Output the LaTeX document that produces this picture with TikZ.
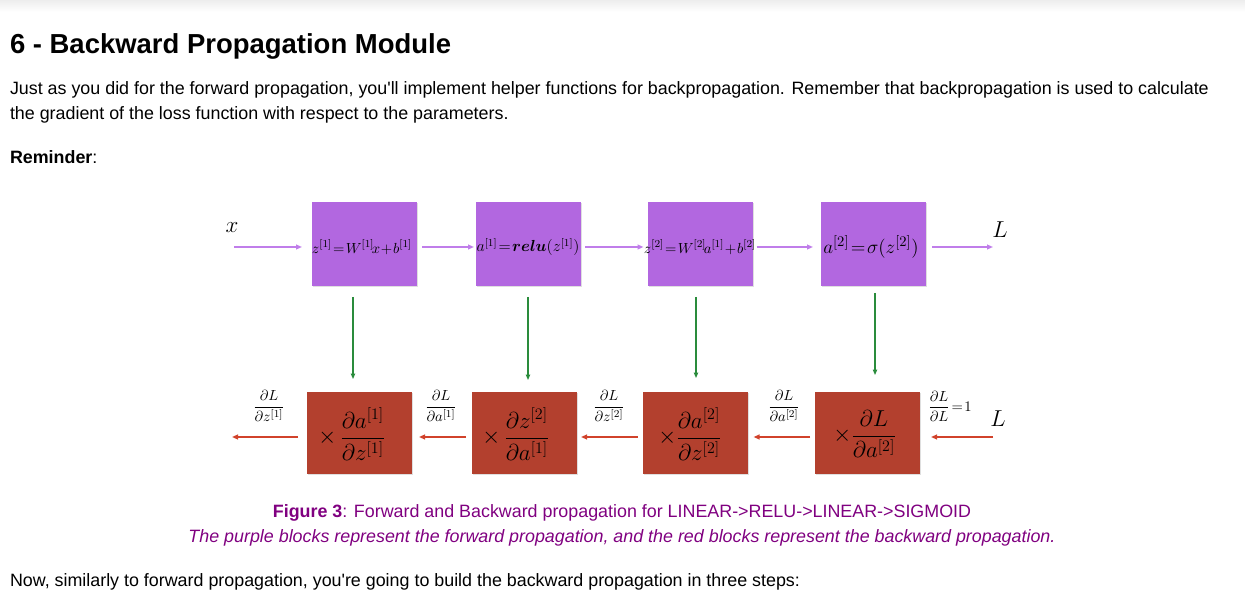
\documentclass[tikz,border=0pt]{standalone}
\usepackage{amsmath}
\usepackage{fontspec}
\setmainfont{Liberation Sans}
\usetikzlibrary{arrows.meta,shadows}
\definecolor{fwdbox}{HTML}{B267E0}
\definecolor{bwdbox}{HTML}{B3402E}
\definecolor{fwdline}{HTML}{C07EEA}
\definecolor{bwdline}{HTML}{D1422B}
\definecolor{grnline}{HTML}{2A8C3C}
\definecolor{capcol}{HTML}{800080}
\newcommand{\tightmath}{\thickmuskip=1.5mu\medmuskip=1mu}
\newcommand{\sq}{\textquotesingle}
\tikzset{
  every node/.style={inner sep=0pt, outer sep=0pt},
  fbox/.style={fill=fwdbox, minimum width=78.75pt, minimum height=63pt,
    drop shadow={shadow xshift=1pt, shadow yshift=-1pt, opacity=0.25}},
  rbox/.style={fill=bwdbox, minimum width=78.75pt, minimum height=61.5pt,
    drop shadow={shadow xshift=1pt, shadow yshift=-1pt, opacity=0.25}},
  fwdarr/.style={draw=fwdline, line width=1.1pt, -{Triangle[length=4.5pt,width=3.6pt]}},
  bwdarr/.style={draw=bwdline, line width=1.1pt, -{Triangle[length=4.5pt,width=3.6pt]}},
  grnarr/.style={draw=grnline, line width=0.8pt, -{Triangle[length=4pt,width=3.2pt]}},
  bodytext/.style={anchor=base west, font=\fontsize{13.4}{16}\selectfont},
  lbl/.style={font=\fontsize{11}{12}\selectfont},
  big/.style={font=\fontsize{17}{18}\selectfont},
  bcont/.style={font=\fontsize{16.5}{18}\selectfont},
}
\begin{document}
\begin{tikzpicture}[x=0.75pt,y=-0.75pt]
\useasboundingbox (0,0) rectangle (1245,605);
\fill[top color=black!7, bottom color=white, draw=none] (0,0) rectangle (1245,12);

% header text
\node[anchor=base west, font=\fontsize{20.6}{24}\selectfont\bfseries] (head) at (10,53.5) {6 - Backward Propagation Module};
\node[bodytext] (p1) at (10,95) {Just as you did for the forward propagation, you\sq ll implement helper functions for backpropagation. Remember that backpropagation is used to calculate};
\node[bodytext] (p2) at (10,120) {the gradient of the loss function with respect to the parameters.};
\node[bodytext, font=\fontsize{13.4}{16}\selectfont\bfseries] (rem) at (10,164) {Reminder\mdseries:};

% forward boxes
\node[fbox] (f1) at (364.5,244) {};
\node[fbox] (f2) at (528.5,244) {};
\node[fbox] (f3) at (700,244) {};
\node[fbox] (f4) at (873.5,244) {};
\node[font=\fontsize{11.2}{12}\selectfont] (f1t) at (362,247) {$\tightmath z^{[1]}=W^{[1]}\!x+b^{[1]}$};
\node[font=\fontsize{12}{12}\selectfont] (f2t) at (528,247) {$\tightmath a^{[1]}=\boldsymbol{relu}(z^{[1]})$};
\node[font=\fontsize{11.2}{12}\selectfont] (f3t) at (700,247) {$\tightmath z^{[2]}=W^{[2]}\!a^{[1]}+b^{[2]}$};
\node[font=\fontsize{15}{16}\selectfont] (f4t) at (871,247) {$\tightmath a^{[2]}=\sigma(z^{[2]})$};

% backward boxes
\node[rbox] (b1) at (359.5,433) {};
\node[rbox] (b2) at (524.5,433) {};
\node[rbox] (b3) at (695,433) {};
\node[rbox] (b4) at (867.5,433) {};
\node[bcont] (b1t) at (352,434) {$\times\,\dfrac{\partial a^{[1]}}{\partial z^{[1]}}$};
\node[bcont] (b2t) at (516,434) {$\times\,\dfrac{\partial z^{[2]}}{\partial a^{[1]}}$};
\node[bcont] (b3t) at (690,434) {$\times\dfrac{\partial a^{[2]}}{\partial z^{[2]}}$};
\node[bcont] (b4t) at (865,434) {$\times\dfrac{\partial L}{\partial a^{[2]}}$};

% outer labels
\node[big] (xl) at (232,228) {$x$};
\node[big] (Lf) at (1000,230) {$L$};
\node[big] (Lb) at (998,419) {$L$};
\node[lbl] (d1) at (269,406) {$\dfrac{\partial L}{\partial z^{[1]}}$};
\node[lbl] (d2) at (441,406) {$\dfrac{\partial L}{\partial a^{[1]}}$};
\node[lbl] (d3) at (609,406) {$\dfrac{\partial L}{\partial z^{[2]}}$};
\node[lbl] (d4) at (784,406) {$\dfrac{\partial L}{\partial a^{[2]}}$};
\node[lbl] (d5) at (950,406) {$\dfrac{\partial L}{\partial L}\!=\!1$};

% forward arrows
\coordinate (fy) at (0,247);
\coordinate (xin) at (234,247);
\coordinate (Lout) at (993,247);
\draw[fwdarr, shorten >=7.5pt] (xin) -- (f1.west |- fy);
\draw[fwdarr, shorten <=3.75pt, shorten >=1.5pt] (f1.east |- fy) -- (f2.west |- fy);
\draw[fwdarr, shorten <=3pt, shorten >=3pt] (f2.east |- fy) -- (f3.west |- fy);
\draw[fwdarr, shorten <=3pt, shorten >=6pt] (f3.east |- fy) -- (f4.west |- fy);
\draw[fwdarr, shorten <=4.5pt] (f4.east |- fy) -- (Lout);

% green arrows
\coordinate (g1) at (353,0);
\coordinate (g2) at (528,0);
\coordinate (g3) at (696,0);
\coordinate (g4) at (875,0);
\draw[grnarr, shorten <=8.25pt, shorten >=9.75pt] (g1 |- f1.south) -- (g1 |- b1.north);
\draw[grnarr, shorten <=8.25pt, shorten >=9pt] (g2 |- f2.south) -- (g2 |- b2.north);
\draw[grnarr, shorten <=8.25pt, shorten >=10.5pt] (g3 |- f3.south) -- (g3 |- b3.north);
\draw[grnarr, shorten <=5.25pt, shorten >=12.75pt] (g4 |- f4.south) -- (g4 |- b4.north);

% backward arrows
\coordinate (by) at (0,437);
\coordinate (bout) at (232,437);
\coordinate (bin) at (993,437);
\draw[bwdarr, shorten <=6.75pt] (b1.west |- by) -- (bout);
\draw[bwdarr, shorten <=4.5pt, shorten >=5.25pt] (b2.west |- by) -- (b1.east |- by);
\draw[bwdarr, shorten <=3.75pt, shorten >=3pt] (b3.west |- by) -- (b2.east |- by);
\draw[bwdarr, shorten <=3.75pt, shorten >=4.5pt] (b4.west |- by) -- (b3.east |- by);
\draw[bwdarr, shorten >=8.25pt] (bin) -- (b4.east |- by);

% captions
\node[anchor=base, text=capcol, font=\fontsize{13.4}{16}\selectfont] (cap1) at (622,517.5) {\textbf{Figure 3}: Forward and Backward propagation for LINEAR->RELU->LINEAR->SIGMOID};
\node[anchor=base, text=capcol, font=\fontsize{13.4}{16}\selectfont\itshape] (cap2) at (622,542.5) {The purple blocks represent the forward propagation, and the red blocks represent the backward propagation.};
\node[bodytext] (p3) at (10,586.5) {Now, similarly to forward propagation, you\sq re going to build the backward propagation in three steps:};
\end{tikzpicture}
\end{document}
